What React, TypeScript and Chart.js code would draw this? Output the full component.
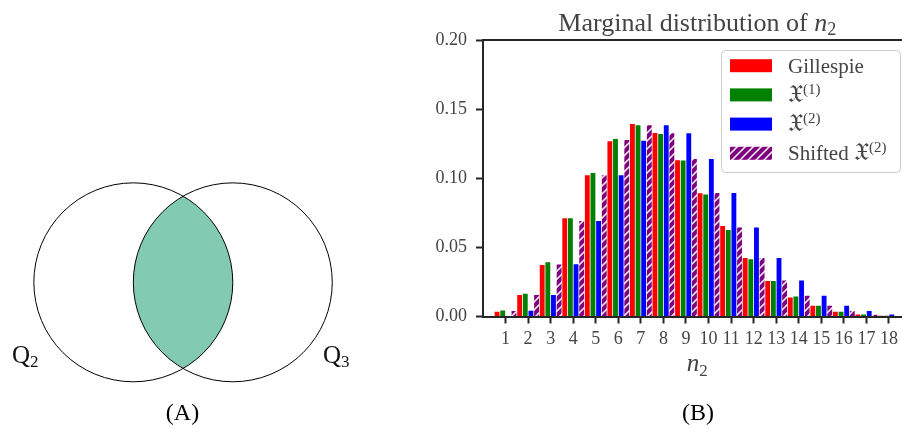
import React, { useEffect, useRef } from 'react';
import { Chart, registerables } from 'chart.js';

Chart.register(...registerables);

// ---------- data ----------
const nValues = [1, 2, 3, 4, 5, 6, 7, 8, 9, 10, 11, 12, 13, 14, 15, 16, 17, 18];
const yTickValues = [0, 0.05, 0.1, 0.15, 0.2];
const gillespie = [0.0034, 0.0155, 0.0373, 0.0711, 0.1021, 0.1267, 0.1392, 0.1327, 0.113, 0.0891, 0.0655, 0.0424, 0.0256, 0.0137, 0.0077, 0.0034, 0.0015, 0.0005];
const chi1 = [0.0043, 0.0164, 0.0393, 0.0711, 0.1038, 0.1284, 0.1383, 0.132, 0.1128, 0.0882, 0.0626, 0.0414, 0.0256, 0.0145, 0.0077, 0.0034, 0.0015, 0.0005];
const chi2 = [0.0003, 0.0041, 0.0155, 0.0378, 0.0691, 0.1021, 0.1272, 0.1383, 0.1325, 0.1139, 0.0893, 0.0643, 0.0424, 0.026, 0.015, 0.0077, 0.0039, 0.0015];
const shiftedChi2 = [0.004, 0.0155, 0.0377, 0.0691, 0.1021, 0.1277, 0.1383, 0.1325, 0.1139, 0.0893, 0.0643, 0.0424, 0.026, 0.015, 0.0077, 0.0039, 0.0013, 0.0004];
const seriesPrefix = ['Gillespie', '', '', 'Shifted '];
const seriesSymbol = ['', '𝔛', '𝔛', '𝔛'];
const seriesSups = ['', '(1)', '(2)', '(2)'];

// Venn diagram (panel A), in data units
const vennCenterX = [0, 1];
const vennCenterY = [0, 0];
const vennRadius = 1;
const vennSetNames = ['Q', 'Q'];
const vennSetSubs = ['2', '3'];

// ---------- style ----------
const SERIF = "'Liberation Serif', 'Times New Roman', serif";
const INK = '#262626';
const TEXT = '#444444';

function makeHatch(color: string): CanvasPattern | string {
  const s = 8;
  const c = document.createElement('canvas');
  c.width = s;
  c.height = s;
  const g = c.getContext('2d');
  if (!g) return color;
  g.fillStyle = color;
  g.fillRect(0, 0, s, s);
  g.strokeStyle = '#ffffff';
  g.lineWidth = 1.5;
  g.beginPath();
  g.moveTo(0, s);
  g.lineTo(s, 0);
  g.moveTo(-s / 2, s / 2);
  g.lineTo(s / 2, -s / 2);
  g.moveTo(s / 2, s + s / 2);
  g.lineTo(s + s / 2, s / 2);
  g.stroke();
  return g.createPattern(c, 'repeat') || color;
}

type Part = { t: string; f: string; dy: number };

function drawParts(ctx: CanvasRenderingContext2D, parts: Part[], x: number, baseline: number, align: 'center' | 'left') {
  ctx.save();
  ctx.textBaseline = 'alphabetic';
  ctx.textAlign = 'left';
  let total = 0;
  const widths = parts.map((p) => {
    ctx.font = p.f;
    const w = ctx.measureText(p.t).width;
    total += w;
    return w;
  });
  let cx = align === 'center' ? x - total / 2 : x;
  parts.forEach((p, i) => {
    ctx.font = p.f;
    ctx.fillText(p.t, cx, baseline + p.dy);
    cx += widths[i];
  });
  ctx.restore();
}

const decorB = {
  id: 'decorB',
  afterDraw(chart: any) {
    const ctx: CanvasRenderingContext2D = chart.ctx;
    const { left, right, top } = chart.chartArea;
    const mid = (left + right) / 2;
    ctx.save();
    // top and right spines
    ctx.strokeStyle = INK;
    ctx.lineWidth = 2;
    ctx.beginPath();
    ctx.moveTo(left - 1, top);
    ctx.lineTo(right, top);
    ctx.lineTo(right, chart.chartArea.bottom);
    ctx.stroke();

    ctx.fillStyle = TEXT;
    drawParts(ctx, [
      { t: 'Marginal distribution of ', f: `26px ${SERIF}`, dy: 0 },
      { t: 'n', f: `italic 26px ${SERIF}`, dy: 0 },
      { t: '2', f: `18px ${SERIF}`, dy: 4 },
    ], mid, 31, 'center');

    drawParts(ctx, [
      { t: 'n', f: `italic 25px ${SERIF}`, dy: 0 },
      { t: '2', f: `17px ${SERIF}`, dy: 5 },
    ], mid, 371, 'center');

    ctx.fillStyle = '#000000';
    drawParts(ctx, [{ t: '(B)', f: `24px ${SERIF}`, dy: 0 }], 278, 420, 'center');

    // legend
    const bx = 301, by = 50, bw = 179, bh = 122;
    ctx.beginPath();
    ctx.roundRect(bx + 0.5, by + 0.5, bw, bh, 4);
    ctx.fillStyle = 'rgba(255,255,255,0.85)';
    ctx.fill();
    ctx.strokeStyle = '#cccccc';
    ctx.lineWidth = 1;
    ctx.stroke();
    chart.data.datasets.forEach((ds: any, i: number) => {
      const cy = 65.7 + i * 29.2;
      ctx.fillStyle = ds.backgroundColor;
      ctx.fillRect(310, cy - 6.5, 42, 13);
      ctx.fillStyle = TEXT;
      const parts: Part[] = [];
      if (seriesPrefix[i]) parts.push({ t: seriesPrefix[i], f: `21px ${SERIF}`, dy: 0 });
      if (seriesSymbol[i]) parts.push({ t: seriesSymbol[i], f: `25px ${SERIF}`, dy: 0 });
      if (seriesSups[i]) parts.push({ t: seriesSups[i], f: `15px ${SERIF}`, dy: -8 });
      drawParts(ctx, parts, 368, cy + 7, 'left');
    });
    ctx.restore();
  },
};

const vennPlugin = {
  id: 'venn',
  afterDraw(chart: any) {
    const ctx: CanvasRenderingContext2D = chart.ctx;
    const xs = chart.scales.x;
    const ys = chart.scales.y;
    const cx = vennCenterX.map((v) => xs.getPixelForValue(v));
    const cy = vennCenterY.map((v) => ys.getPixelForValue(v));
    const r = xs.getPixelForValue(vennRadius) - xs.getPixelForValue(0);
    ctx.save();
    // intersection
    ctx.save();
    ctx.beginPath();
    ctx.arc(cx[0], cy[0], r, 0, Math.PI * 2);
    ctx.clip();
    ctx.beginPath();
    ctx.arc(cx[1], cy[1], r, 0, Math.PI * 2);
    ctx.fillStyle = '#82cbb2';
    ctx.fill();
    ctx.restore();
    // outlines
    ctx.strokeStyle = '#000000';
    ctx.lineWidth = 1;
    for (let i = 0; i < cx.length; i++) {
      ctx.beginPath();
      ctx.arc(cx[i], cy[i], r, 0, Math.PI * 2);
      ctx.stroke();
    }
    ctx.fillStyle = '#111111';
    const labelX = [12, 323];
    vennSetNames.forEach((nm, i) => {
      drawParts(ctx, [
        { t: nm, f: `25px ${SERIF}`, dy: 0 },
        { t: vennSetSubs[i], f: `17px ${SERIF}`, dy: 4 },
      ], labelX[i], 363, 'left');
    });
    ctx.fillStyle = '#000000';
    drawParts(ctx, [{ t: '(A)', f: `24px ${SERIF}`, dy: 0 }], 182.5, 420, 'center');
    ctx.restore();
  },
};

export default function App() {
  const refA = useRef<HTMLCanvasElement>(null);
  const refB = useRef<HTMLCanvasElement>(null);

  useEffect(() => {
    const hatch = makeHatch('#800080');
    const toPts = (arr: number[]) => nValues.map((x, i) => ({ x, y: arr[i] }));
    const tickFont = { family: SERIF, size: 18 };
    const axisCommon = {
      grid: {
        display: true,
        drawOnChartArea: false,
        drawTicks: true,
        tickLength: 7,
        tickWidth: 2,
        tickColor: INK,
        offset: false,
      },
      border: { display: true, color: INK, width: 2 },
    };

    const chartB = new Chart(refB.current as HTMLCanvasElement, {
      type: 'bar',
      data: {
        datasets: [
          { label: 'Gillespie', data: toPts(gillespie), backgroundColor: '#ff0000', borderWidth: 0 },
          { label: 'X(1)', data: toPts(chi1), backgroundColor: '#008000', borderWidth: 0 },
          { label: 'X(2)', data: toPts(chi2), backgroundColor: '#0000ff', borderWidth: 0 },
          { label: 'Shifted X(2)', data: toPts(shiftedChi2), backgroundColor: hatch as any, borderWidth: 0 },
        ] as any,
      },
      options: {
        responsive: false,
        animation: false,
        devicePixelRatio: 1,
        events: [],
        layout: { padding: { left: 3, right: 28.5, top: 40, bottom: 81.5 } },
        datasets: { bar: { categoryPercentage: 1, barPercentage: 0.86 } },
        plugins: { legend: { display: false }, tooltip: { enabled: false }, title: { display: false } },
        scales: {
          x: {
            type: 'linear',
            min: 0,
            max: 19,
            offset: false,
            afterBuildTicks: (s: any) => {
              s.ticks = nValues.map((v) => ({ value: v }));
            },
            afterFit: (s: any) => {
              s.height = 30;
            },
            ticks: {
              autoSkip: false,
              maxRotation: 0,
              font: tickFont,
              color: TEXT,
              padding: 5,
              callback: (v: any) => String(v),
            },
            ...axisCommon,
          },
          y: {
            type: 'linear',
            min: 0,
            max: 0.2,
            afterBuildTicks: (s: any) => {
              s.ticks = yTickValues.map((v) => ({ value: v }));
            },
            afterFit: (s: any) => {
              s.width = 60;
            },
            ticks: {
              font: tickFont,
              color: TEXT,
              padding: 9,
              callback: (v: any) => Number(v).toFixed(2),
            },
            ...axisCommon,
          },
        } as any,
      },
      plugins: [decorB],
    });

    const chartA = new Chart(refA.current as HTMLCanvasElement, {
      type: 'scatter',
      data: {
        datasets: [
          {
            label: 'sets',
            data: vennCenterX.map((x, i) => ({ x, y: vennCenterY[i] })),
            pointRadius: 0,
          },
        ],
      },
      options: {
        responsive: false,
        animation: false,
        devicePixelRatio: 1,
        events: [],
        layout: { padding: { left: 4, right: 38, top: 153, bottom: 16.35 } },
        plugins: { legend: { display: false }, tooltip: { enabled: false } },
        scales: {
          x: { type: 'linear', min: -1.3, max: 2.5, display: false },
          y: { type: 'linear', min: -1.3, max: 1.3, display: false },
        },
      },
      plugins: [vennPlugin],
    });

    return () => {
      chartA.destroy();
      chartB.destroy();
    };
  }, []);

  return (
    <div
      style={{
        position: 'fixed',
        left: 0,
        top: 0,
        width: 902,
        height: 428,
        overflow: 'hidden',
        background: '#ffffff',
      }}
    >
      <canvas
        ref={refA}
        width={420}
        height={428}
        style={{ position: 'absolute', left: 0, top: 0, width: 420, height: 428 }}
      />
      <canvas
        ref={refB}
        width={520}
        height={428}
        style={{ position: 'absolute', left: 420, top: 0, width: 520, height: 428 }}
      />
    </div>
  );
}
